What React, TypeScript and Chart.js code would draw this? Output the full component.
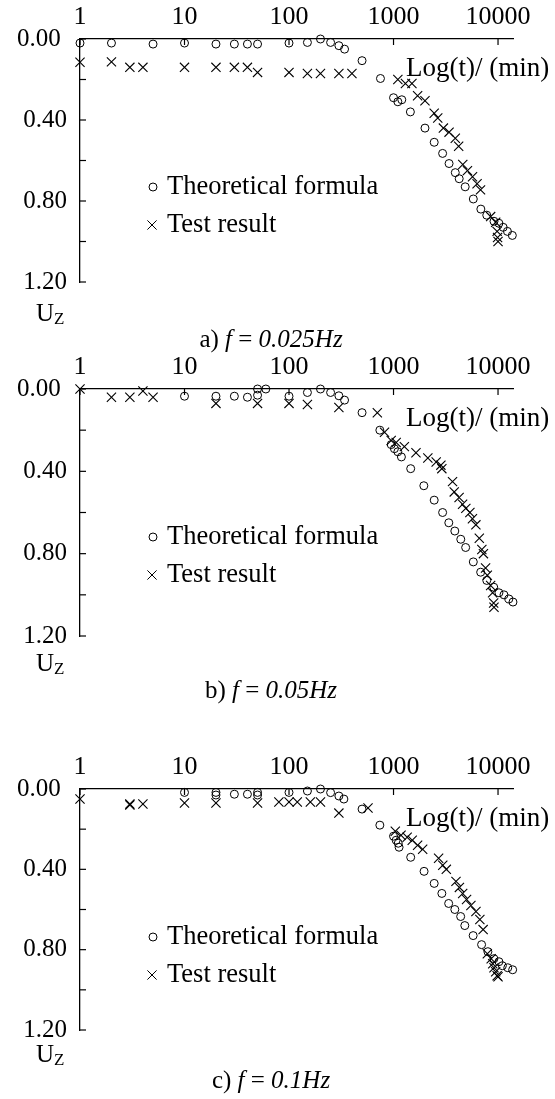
import React, { useEffect, useRef } from 'react';
import { Chart, registerables } from 'chart.js';
Chart.register(...registerables);

// ---------- data ----------
const xTickValues = [1, 10, 100, 1000, 10000];
const yTickValues = [0, 0.2, 0.4, 0.6, 0.8, 1.0, 1.2];
const yLabelValues = [0, 0.4, 0.8, 1.2];

const theoA_t = [1, 2, 5, 10, 20, 30, 40, 50, 100, 150, 200, 250, 300, 340, 500, 750, 1000, 1100, 1200, 1450, 2000, 2450, 2950, 3400, 3900, 4250, 4850, 5800, 6850, 7800, 9150, 10200, 11200, 12300, 13700];
const theoA_u = [0.02, 0.02, 0.025, 0.02, 0.025, 0.025, 0.025, 0.025, 0.02, 0.017, 0.0, 0.017, 0.033, 0.05, 0.107, 0.195, 0.29, 0.31, 0.30, 0.36, 0.44, 0.51, 0.565, 0.615, 0.66, 0.69, 0.73, 0.79, 0.84, 0.87, 0.90, 0.91, 0.93, 0.95, 0.97];
const testA_t = [1, 2, 3, 4, 10, 20, 30, 40, 50, 100, 150, 200, 300, 400, 1100, 1300, 1500, 1700, 2000, 2450, 2650, 3000, 3400, 3900, 4200, 4600, 5100, 5700, 6300, 6800, 8500, 9500, 9800, 9900, 10000];
const testA_u = [0.115, 0.113, 0.14, 0.14, 0.14, 0.14, 0.14, 0.14, 0.165, 0.165, 0.17, 0.17, 0.17, 0.17, 0.20, 0.22, 0.22, 0.28, 0.305, 0.367, 0.39, 0.44, 0.46, 0.49, 0.53, 0.62, 0.65, 0.68, 0.715, 0.745, 0.877, 0.905, 0.95, 0.98, 1.0];

const theoB_t = [10, 20, 30, 40, 50, 50, 60, 100, 150, 200, 250, 300, 340, 500, 740, 950, 1020, 1100, 1190, 1460, 1950, 2450, 2950, 3380, 3860, 4400, 4900, 5800, 6820, 7800, 9100, 10200, 11400, 12700, 13900];
const theoB_u = [0.035, 0.035, 0.035, 0.04, 0.03, 0.0, 0.0, 0.035, 0.017, 0.0, 0.017, 0.033, 0.054, 0.115, 0.2, 0.27, 0.29, 0.305, 0.33, 0.387, 0.47, 0.54, 0.60, 0.65, 0.69, 0.73, 0.77, 0.84, 0.89, 0.93, 0.963, 0.99, 1.0, 1.02, 1.035];
const testB_t = [1, 2, 3, 4, 5, 20, 50, 100, 150, 300, 700, 820, 950, 1060, 1270, 1640, 2130, 2560, 2840, 2900, 3670, 3810, 4240, 4580, 4920, 5380, 5690, 6140, 6620, 7000, 7250, 7600, 7900, 8500, 8870, 9080, 9150];
const testB_u = [0.0, 0.04, 0.04, 0.01, 0.04, 0.07, 0.07, 0.07, 0.075, 0.09, 0.115, 0.21, 0.25, 0.26, 0.28, 0.31, 0.335, 0.355, 0.37, 0.387, 0.45, 0.50, 0.527, 0.56, 0.58, 0.60, 0.63, 0.66, 0.725, 0.78, 0.80, 0.87, 0.905, 0.955, 0.99, 1.04, 1.06];

const theoC_t = [10, 20, 20, 30, 40, 50, 50, 100, 150, 200, 250, 300, 335, 500, 740, 1000, 1060, 1110, 1130, 1460, 1960, 2450, 2900, 3370, 3860, 4390, 4810, 5780, 6960, 8000, 9130, 10200, 11000, 12400, 13800];
const theoC_u = [0.017, 0.017, 0.03, 0.026, 0.026, 0.017, 0.03, 0.017, 0.01, 0.0, 0.018, 0.035, 0.05, 0.1, 0.18, 0.235, 0.255, 0.27, 0.29, 0.34, 0.41, 0.47, 0.52, 0.57, 0.60, 0.635, 0.68, 0.73, 0.775, 0.81, 0.845, 0.86, 0.88, 0.89, 0.90];
const testC_t = [1, 3, 3, 4, 10, 20, 50, 80, 100, 120, 160, 200, 300, 570, 1040, 1180, 1350, 1510, 1700, 1900, 2700, 2960, 3200, 3960, 4270, 4590, 5000, 5500, 6150, 6700, 7200, 7900, 8600, 8900, 9150, 9500, 9800, 10000];
const testC_u = [0.05, 0.075, 0.08, 0.075, 0.07, 0.07, 0.07, 0.065, 0.065, 0.065, 0.065, 0.065, 0.12, 0.095, 0.21, 0.23, 0.24, 0.255, 0.28, 0.30, 0.345, 0.38, 0.40, 0.46, 0.49, 0.52, 0.55, 0.58, 0.61, 0.65, 0.70, 0.82, 0.845, 0.87, 0.89, 0.91, 0.93, 0.935];

const legendTheo = 'Theoretical formula';
const legendTest = 'Test result';
const xTitle = 'Log(t)/ (min)';

const FONT = '"Liberation Serif", "Times New Roman", serif';
const W = 555;

type PanelProps = {
  canvasTop: number; canvasHeight: number; chartTop: number; chartBottom: number;
  theoT: number[]; theoU: number[]; testT: number[]; testU: number[];
  letter: string; freq: string; uzY: number; capY: number;
};

function Panel(p: PanelProps) {
  const ref = useRef<HTMLCanvasElement | null>(null);
  useEffect(() => {
    const XH = 36;
    const ct = p.chartTop - p.canvasTop;
    const cb = p.chartBottom - p.canvasTop;
    const rel = (y: number) => y - p.canvasTop;
    const extras = {
      id: 'extras',
      afterDraw(chart: any) {
        const ctx = chart.ctx;
        const { left, top } = chart.chartArea;
        const xs = chart.scales.x, ys = chart.scales.y;
        ctx.save();
        ctx.strokeStyle = '#000';
        ctx.lineWidth = 1.2;
        xs.ticks.forEach((t: any) => {
          const px = xs.getPixelForValue(t.value);
          ctx.beginPath(); ctx.moveTo(px, top); ctx.lineTo(px, top + 6); ctx.stroke();
        });
        ys.ticks.forEach((t: any) => {
          const py = ys.getPixelForValue(t.value);
          ctx.beginPath(); ctx.moveTo(left, py); ctx.lineTo(left + 6, py); ctx.stroke();
        });
        ctx.fillStyle = '#000';
        ctx.textBaseline = 'middle';
        ctx.textAlign = 'left';
        ctx.font = `27px ${FONT}`;
        ctx.fillText(xTitle, 406, top + 29.5);
        // legend
        const ly1 = top + 148, ly2 = top + 186;
        ctx.lineWidth = 1;
        ctx.beginPath(); ctx.arc(153, ly1, 4, 0, Math.PI * 2); ctx.stroke();
        const c = 4.6;
        ctx.beginPath();
        ctx.moveTo(152 - c, ly2 - c); ctx.lineTo(152 + c, ly2 + c);
        ctx.moveTo(152 + c, ly2 - c); ctx.lineTo(152 - c, ly2 + c);
        ctx.stroke();
        ctx.font = `26.5px ${FONT}`;
        ctx.fillText(legendTheo, 167, ly1);
        ctx.fillText(legendTest, 167, ly2);
        // Uz
        ctx.textBaseline = 'alphabetic';
        const uy = rel(p.uzY) + 8;
        ctx.font = `25px ${FONT}`;
        ctx.fillText('U', 36, uy);
        const uw = ctx.measureText('U').width;
        ctx.font = `17px ${FONT}`;
        ctx.fillText('Z', 36 + uw, uy + 3);
        // caption
        const segs: [string, boolean][] = [[p.letter + ') ', false], ['f', true], [' = ', false], [p.freq, true]];
        let total = 0;
        segs.forEach(([s, it]) => { ctx.font = `${it ? 'italic ' : ''}25px ${FONT}`; total += ctx.measureText(s).width; });
        let x = 271 - total / 2;
        const cy = rel(p.capY) + 8;
        segs.forEach(([s, it]) => { ctx.font = `${it ? 'italic ' : ''}25px ${FONT}`; ctx.fillText(s, x, cy); x += ctx.measureText(s).width; });
        ctx.restore();
      }
    };
    const chart = new Chart(ref.current as HTMLCanvasElement, {
      type: 'scatter',
      data: {
        datasets: [
          {
            label: legendTheo,
            data: p.theoT.map((t, i) => ({ x: t, y: p.theoU[i] })),
            pointStyle: 'circle', pointRadius: 4, borderWidth: 1,
            borderColor: '#000', backgroundColor: 'rgba(0,0,0,0)', clip: false,
          },
          {
            label: legendTest,
            data: p.testT.map((t, i) => ({ x: t, y: p.testU[i] })),
            pointStyle: 'crossRot', pointRadius: 6.5, borderWidth: 1.1,
            borderColor: '#000', backgroundColor: '#000', clip: false,
          },
        ],
      },
      options: {
        animation: false,
        responsive: false,
        devicePixelRatio: 1,
        layout: { padding: { top: ct - XH, left: 0, right: W - 513.3, bottom: p.canvasHeight - cb } },
        plugins: { legend: { display: false }, tooltip: { enabled: false } },
        scales: {
          x: {
            type: 'logarithmic', position: 'top', min: 1, max: 14000,
            afterBuildTicks: (axis: any) => { axis.ticks = xTickValues.map(v => ({ value: v })); },
            afterFit: (s: any) => { s.height = XH; },
            ticks: {
              autoSkip: false, maxRotation: 0, padding: 6, color: '#000',
              font: { family: FONT, size: 26 },
              callback: (v: any) => String(v),
            },
            grid: { display: false, drawTicks: false },
            border: { display: true, color: '#000', width: 1.3 },
          },
          y: {
            type: 'linear', reverse: true, min: 0, max: 1.2,
            afterBuildTicks: (axis: any) => { axis.ticks = yTickValues.map(v => ({ value: v })); },
            afterFit: (s: any) => { s.width = 80; },
            ticks: {
              autoSkip: false, padding: 13, color: '#000',
              font: { family: FONT, size: 25 },
              callback: (v: any) => {
                if (!yLabelValues.some(l => Math.abs(l - v) < 1e-6)) return '';
                const s = Number(v).toFixed(2);
                return Math.abs(v) < 1e-6 ? s + ' ' : s;
              },
            },
            grid: { display: false, drawTicks: false },
            border: { display: true, color: '#000', width: 1.3 },
          },
        },
      },
      plugins: [extras],
    } as any);
    return () => chart.destroy();
  }, []);
  return (
    <canvas
      ref={ref}
      width={W}
      height={p.canvasHeight}
      style={{ position: 'absolute', left: 0, top: p.canvasTop, width: W, height: p.canvasHeight }}
    />
  );
}

export default function App() {
  return (
    <div style={{ position: 'absolute', left: 0, top: 0, width: W, height: 1099, background: '#fff' }}>
      <Panel canvasTop={0} canvasHeight={360} chartTop={39} chartBottom={282}
        theoT={theoA_t} theoU={theoA_u} testT={testA_t} testU={testA_u}
        letter="a" freq="0.025Hz" uzY={313} capY={339} />
      <Panel canvasTop={328} canvasHeight={400} chartTop={389} chartBottom={636}
        theoT={theoB_t} theoU={theoB_u} testT={testB_t} testU={testB_u}
        letter="b" freq="0.05Hz" uzY={663} capY={690} />
      <Panel canvasTop={728} canvasHeight={371} chartTop={789} chartBottom={1030}
        theoT={theoC_t} theoU={theoC_u} testT={testC_t} testU={testC_u}
        letter="c" freq="0.1Hz" uzY={1054} capY={1080} />
    </div>
  );
}
